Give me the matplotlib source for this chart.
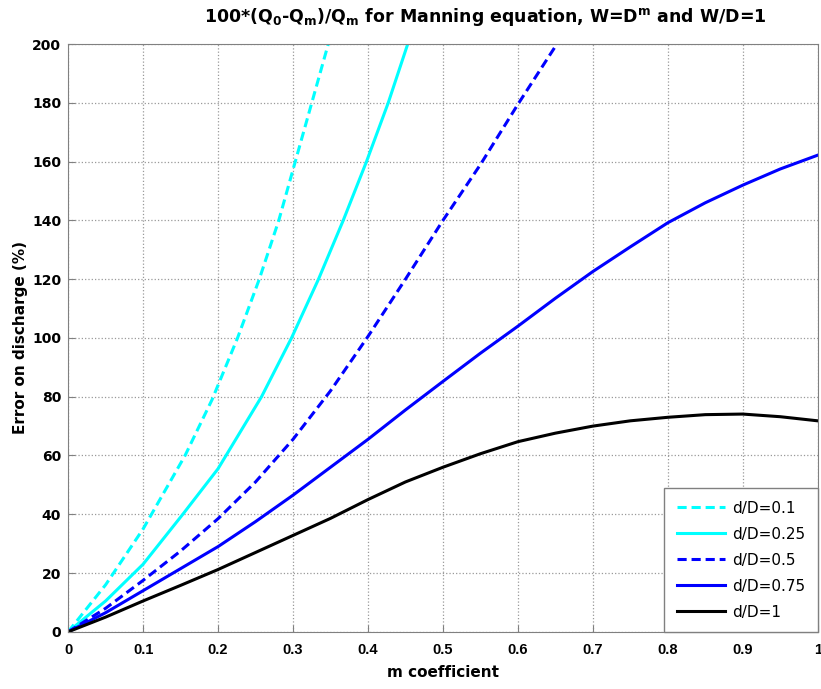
import numpy as np
import matplotlib.pyplot as plt

plt.rcParams['font.family'] = ['DejaVu Sans']
plt.rcParams['mathtext.fontset'] = 'custom'
plt.rcParams['mathtext.rm'] = 'DejaVu Sans:bold'
plt.rcParams['mathtext.it'] = 'DejaVu Sans:bold'

# values
m_01 = [0, 0.05, 0.1, 0.156, 0.192, 0.226, 0.255, 0.281, 0.303, 0.325, 0.347]
e_01 = [0, 16, 35, 60, 79, 100, 120, 140, 160, 180, 200]

m_025 = [0, 0.05, 0.1, 0.153, 0.2, 0.258, 0.298, 0.334, 0.367, 0.398, 0.427, 0.453]
e_025 = [0, 10.5, 23, 40, 55.5, 80, 100, 120, 140, 160, 180, 200]

m_05 = [0, 0.05, 0.1, 0.15, 0.2, 0.25, 0.3, 0.35, 0.4, 0.45, 0.5, 0.55, 0.6, 0.652]
e_05 = [0, 8, 17.5, 27.5, 38.5, 51, 65.5, 82, 100.5, 120, 140, 159, 179.5, 200]

m_all = [0, 0.05, 0.1, 0.15, 0.2, 0.25, 0.3, 0.35, 0.4, 0.45, 0.5,
         0.55, 0.6, 0.65, 0.7, 0.75, 0.8, 0.85, 0.9, 0.95, 1.0]
e_075 = [0, 6.5, 14, 21.5, 29, 37.5, 46.5, 56, 65.5, 75.5, 85.2,
         94.8, 104, 113.5, 122.6, 131, 139.2, 146, 152, 157.5, 162.2]
e_1 = [0, 5, 10.5, 15.8, 21.2, 27, 32.8, 38.6, 45, 51, 56,
       60.6, 64.7, 67.6, 70, 71.8, 73, 73.9, 74.1, 73.2, 71.8]

fig = plt.figure(figsize=(8.21, 6.89), dpi=100)
ax = fig.add_axes([0.083, 0.083, 0.913, 0.853])

ax.plot(m_01, e_01, '--', color='#00ffff', lw=2.2, dashes=(3, 1.6), label='d/D=0.1')
ax.plot(m_025, e_025, '-', color='#00ffff', lw=2.2, label='d/D=0.25')
ax.plot(m_05, e_05, '--', color='#0000ff', lw=2.2, dashes=(3, 1.6), label='d/D=0.5')
ax.plot(m_all, e_075, '-', color='#0000ff', lw=2.2, label='d/D=0.75')
ax.plot(m_all, e_1, '-', color='black', lw=2.2, label='d/D=1')

ax.set_xlim(0, 1)
ax.set_ylim(0, 200)
ax.set_xticks(np.arange(0, 1.01, 0.1))
ax.set_xticklabels(['0', '0.1', '0.2', '0.3', '0.4', '0.5', '0.6', '0.7', '0.8', '0.9', '1'],
                   family='Liberation Sans', fontweight='bold', fontsize=10.5)
ax.set_yticks(np.arange(0, 201, 20))
ax.grid(True, linestyle=':', color='#999999', lw=0.9)
for s in ax.spines.values():
    s.set_color('#808080')
ax.tick_params(colors='#808080', labelcolor='black', direction='in', length=5)
ax.tick_params(axis='x', pad=8)
ax.tick_params(axis='y', labelsize=10, pad=5)
for lab in ax.get_yticklabels():
    lab.set_fontweight('bold')

ax.set_xlabel('m coefficient', fontsize=11, fontweight='bold', labelpad=6)
ax.set_ylabel('Error on discharge (%)', fontsize=11, fontweight='bold', labelpad=3)
ax.set_title(r'100*(Q$_0$-Q$_m$)/Q$_m$ for Manning equation, W=D$^m$ and W/D=1',
             fontsize=12.5, fontweight='bold', pad=16, x=0.557)

leg = ax.legend(loc='lower right', fontsize=11, fancybox=False, framealpha=1,
                edgecolor='#808080', borderaxespad=0, handlelength=3.2,
                handletextpad=0.45, labelspacing=0.72, borderpad=0.8)

plt.savefig('out.png', dpi=100)
